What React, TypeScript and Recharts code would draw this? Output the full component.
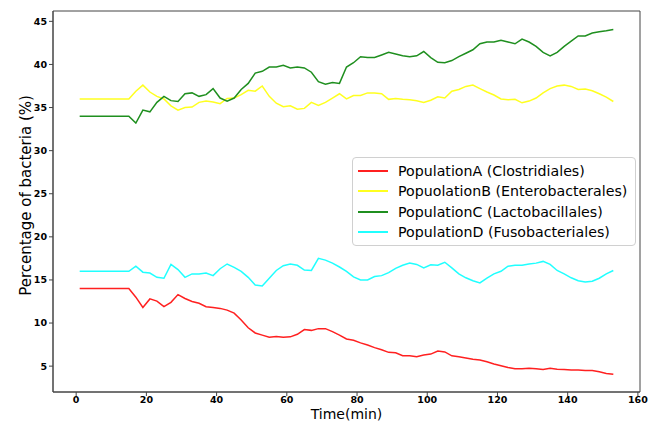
import { LineChart, Line, XAxis, YAxis, ReferenceArea } from 'recharts';

// time points (min)
const times = [
  1, 3, 5, 7, 9, 11, 13, 15, 17, 19, 21, 23, 25, 27, 29, 31, 33, 35, 37, 39,
  41, 43, 45, 47, 49, 51, 53, 55, 57, 59, 61, 63, 65, 67, 69, 71, 73, 75, 77, 79,
  81, 83, 85, 87, 89, 91, 93, 95, 97, 99, 101, 103, 105, 107, 109, 111, 113, 115,
  117, 119, 121, 123, 125, 127, 129, 131, 133, 135, 137, 139, 141, 143, 145, 147,
  149, 151, 153,
];

const popA = [
  14, 14, 14, 14, 14, 14, 14, 14, 13.0, 11.8, 12.8, 12.55, 11.9, 12.4, 13.3, 12.85,
  12.5, 12.3, 11.9, 11.8, 11.7, 11.5, 11.15, 10.35, 9.45, 8.85, 8.6, 8.35, 8.45, 8.35,
  8.4, 8.7, 9.25, 9.15, 9.35, 9.35, 9.0, 8.6, 8.15, 8.0, 7.7, 7.45, 7.15, 6.9, 6.6,
  6.55, 6.2, 6.2, 6.1, 6.3, 6.4, 6.75, 6.65, 6.2, 6.1, 5.95, 5.8, 5.7, 5.5, 5.25,
  5.05, 4.85, 4.7, 4.7, 4.75, 4.7, 4.6, 4.75, 4.65, 4.6, 4.55, 4.55, 4.5, 4.5, 4.35,
  4.15, 4.05,
];

const popB = [
  36, 36, 36, 36, 36, 36, 36, 36, 36.9, 37.6, 36.8, 36.3, 36.0, 35.2, 34.7, 35.0,
  35.05, 35.6, 35.75, 35.65, 35.45, 36.05, 36.1, 36.5, 37.0, 36.9, 37.5, 36.3, 35.5,
  35.1, 35.2, 34.8, 34.9, 35.6, 35.25, 35.6, 36.1, 36.6, 36.0, 36.4, 36.4, 36.7, 36.7,
  36.6, 35.95, 36.05, 35.95, 35.9, 35.8, 35.6, 35.85, 36.25, 36.1, 36.9, 37.1, 37.45,
  37.6, 37.2, 36.8, 36.45, 36.0, 35.9, 35.95, 35.55, 35.75, 36.1, 36.7, 37.2, 37.5,
  37.6, 37.45, 37.1, 37.15, 36.95, 36.6, 36.2, 35.7,
];

const popC = [
  34, 34, 34, 34, 34, 34, 34, 34, 33.2, 34.7, 34.5, 35.6, 36.3, 35.8, 35.7, 36.6,
  36.7, 36.3, 36.5, 37.2, 36.1, 35.75, 36.1, 37.1, 37.8, 39.0, 39.2, 39.7, 39.7, 39.9,
  39.6, 39.7, 39.6, 39.1, 38.0, 37.7, 37.9, 37.8, 39.7, 40.2, 40.9, 40.8, 40.8, 41.1,
  41.4, 41.2, 41.0, 40.9, 41.0, 41.5, 40.8, 40.25, 40.2, 40.45, 40.9, 41.3, 41.7, 42.4,
  42.6, 42.6, 42.8, 42.6, 42.4, 42.95, 42.6, 42.1, 41.4, 41.0, 41.4, 42.1, 42.7, 43.3,
  43.3, 43.65, 43.8, 43.9, 44.05,
];

const popD = [
  16, 16, 16, 16, 16, 16, 16, 16, 16.6, 15.9, 15.8, 15.3, 15.2, 16.8, 16.2, 15.3,
  15.7, 15.7, 15.8, 15.5, 16.3, 16.85, 16.45, 16.0, 15.3, 14.4, 14.3, 15.2, 16.1,
  16.65, 16.85, 16.7, 16.15, 16.1, 17.5, 17.3, 16.95, 16.5, 16.0, 15.35, 15.0, 15.0,
  15.4, 15.5, 15.85, 16.35, 16.7, 16.95, 16.8, 16.4, 16.75, 16.7, 17.05, 16.4, 15.7,
  15.25, 14.9, 14.65, 15.2, 15.7, 16.0, 16.6, 16.7, 16.7, 16.85, 16.95, 17.15, 16.8,
  16.1, 15.7, 15.25, 14.9, 14.75, 14.85, 15.2, 15.7, 16.1,
];

const xTicks = [0, 20, 40, 60, 80, 100, 120, 140, 160];
const yTicks = [5, 10, 15, 20, 25, 30, 35, 40, 45];
const xDomain: [number, number] = [-6.6, 160.6];
const yDomain: [number, number] = [2, 46.2];

const series = [
  { key: 'a', name: 'PopulationA (Clostridiales)', color: '#ff2020' },
  { key: 'b', name: 'PopuolationB (Enterobacterales)', color: '#ffff20' },
  { key: 'c', name: 'PopulationC (Lactobacillales)', color: '#1f8f1f' },
  { key: 'd', name: 'PopulationD (Fusobacteriales)', color: '#20ffff' },
];

const data = times.map((t, i) => ({
  t,
  a: popA[i],
  b: popB[i],
  c: popC[i],
  d: popD[i],
}));

const FONT = '"DejaVu Sans", sans-serif';
const AXIS = '#444';

function LegendBox() {
  return (
    <div
      style={{
        position: 'absolute',
        left: 352,
        top: 157,
        border: '1px solid #d0d0d0',
        borderRadius: 4,
        background: 'rgba(255,255,255,0.8)',
        padding: '3px 8px 3px 5px',
        fontFamily: FONT,
        fontSize: 14.2,
        color: '#000',
      }}
    >
      {series.map((s) => (
        <div
          key={s.key}
          style={{ display: 'flex', alignItems: 'center', height: 20.3 }}
        >
          <span
            style={{
              display: 'inline-block',
              width: 30,
              height: 2,
              background: s.color,
              marginRight: 10,
            }}
          />
          <span style={{ whiteSpace: 'nowrap' }}>{s.name}</span>
        </div>
      ))}
    </div>
  );
}

export default function App() {
  return (
    <div
      style={{
        position: 'absolute',
        left: 0,
        top: 0,
        width: 655,
        height: 421,
        background: '#fff',
      }}
    >
      <LineChart
        width={655}
        height={421}
        data={data}
        margin={{ top: 11, right: 15, bottom: 0, left: 0 }}
      >
        <XAxis
          dataKey="t"
          type="number"
          domain={xDomain}
          ticks={xTicks}
          allowDataOverflow
          height={29}
          stroke={AXIS}
          tickSize={4}
          tickMargin={0}
          tick={{ fontSize: 9.5, fontWeight: 'bold', fill: '#000', fontFamily: FONT }}
          label={{
            value: 'Time(min)',
            position: 'insideBottom',
            offset: 2.5,
            style: { fontSize: 14, fill: '#000', fontFamily: FONT },
          }}
        />
        <YAxis
          type="number"
          domain={yDomain}
          ticks={yTicks}
          allowDataOverflow
          width={53}
          stroke={AXIS}
          tickSize={4}
          tick={{ fontSize: 9.5, fontWeight: 'bold', fill: '#000', fontFamily: FONT }}
          label={{
            value: 'Percentage of bacteria (%)',
            content: (props: any) => {
              const vb = props.viewBox || {};
              const cx = 26;
              const cy = (vb.y ?? 11) + (vb.height ?? 381) / 2 - 6;
              return (
                <text
                  x={cx}
                  y={cy}
                  transform={`rotate(-90, ${cx}, ${cy})`}
                  textAnchor="middle"
                  dominantBaseline="central"
                  style={{ fontSize: 15, fill: '#000', fontFamily: FONT }}
                >
                  Percentage of bacteria (%)
                </text>
              );
            },
          }}
        />
        {/* frame around the plot area */}
        <ReferenceArea
          x1={xDomain[0]}
          x2={xDomain[1]}
          y1={yDomain[0]}
          y2={yDomain[1]}
          fill="none"
          fillOpacity={0}
          stroke={AXIS}
          strokeWidth={1}
          ifOverflow="visible"
        />
        {series.map((s) => (
          <Line
            key={s.key}
            type="linear"
            dataKey={s.key}
            name={s.name}
            stroke={s.color}
            strokeWidth={1.5}
            dot={false}
            isAnimationActive={false}
          />
        ))}
      </LineChart>
      <LegendBox />
    </div>
  );
}
